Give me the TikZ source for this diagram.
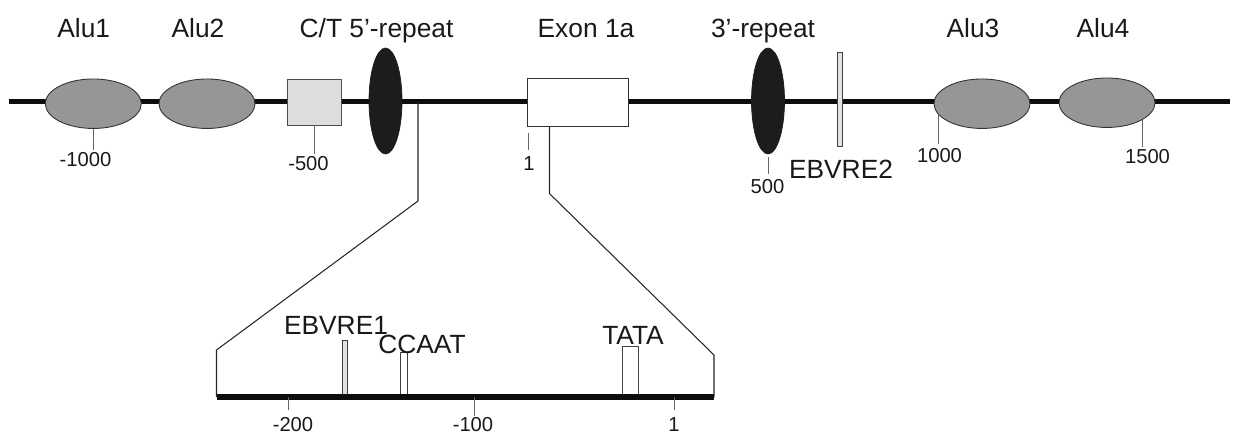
\documentclass[tikz,border=0pt]{standalone}
\usepackage{fontspec}
\setmainfont{Liberation Sans}
\usetikzlibrary{shapes.geometric}
\definecolor{alugray}{HTML}{969696}
\definecolor{boxgray}{HTML}{DDDDDD}
\definecolor{repblack}{HTML}{1E1B1B}
\definecolor{bargray}{HTML}{E2E2E2}
\begin{document}
\begin{tikzpicture}[
    x=0.02cm, y=-0.02cm,
    alu/.style={ellipse, minimum width=1.92cm, minimum height=0.99cm, inner sep=0pt, draw=black!80, line width=0.5pt, fill=alugray},
    repeat/.style={ellipse, minimum width=0.66cm, minimum height=2.12cm, inner sep=0pt, draw=repblack, fill=repblack},
    sqbox/.style={rectangle, minimum width=1.07cm, minimum height=0.92cm, inner sep=0pt, draw=black!70, line width=0.5pt, fill=boxgray},
    exonbox/.style={rectangle, minimum width=2.02cm, minimum height=0.96cm, inner sep=0pt, draw=black!80, line width=0.5pt, fill=white},
    bar/.style={rectangle, inner sep=0pt, draw=black!75, line width=0.5pt, anchor=south},
    big/.style={font=\fontsize{15}{17}\selectfont, inner sep=0pt, anchor=base, text=black!90},
    small/.style={font=\fontsize{11.5}{13}\selectfont, inner sep=0pt, anchor=base, text=black!90},
    dna/.style={line width=2.8pt, draw=black!95},
    tick/.style={line width=0.5pt, draw=black!60},
    zoomline/.style={line width=0.6pt, draw=black!85}
]
\useasboundingbox (0,0) rectangle (1234,447);

% Main strand
\coordinate (left) at (9,101.7);
\coordinate (right) at (1230,101.7);
\coordinate (zl) at (418,101.7);
\draw [dna] (left) -- (right);

% Nodes
\node (alu1) [alu] at (93.3,103.7) {};
\node (alu2) [alu] at (207,103.7) {};
\node (sq) [sqbox] at (314.3,102) {};
\node (rep5) [repeat] at (385.5,101) {};
\node (exon) [exonbox] at (577.5,102) {};
\node (rep3) [repeat] at (768,101) {};
\node (ebv2) [bar, anchor=center, minimum width=0.1cm, minimum height=1.89cm, fill=bargray] at (840.2,99.5) {};
\node (alu3) [alu] at (982,103.7) {};
\node (alu4) [alu] at (1107,102.7) {};

% Labels
\node (lalu1) [big] at (83.7,37) {Alu1};
\node (lalu2) [big] at (198,37) {Alu2};
\node (lct) [big] at (376.6,37) {C/T 5’-repeat};
\node (lexon) [big] at (586,37) {Exon 1a};
\node (lrep3) [big] at (763,37) {3’-repeat};
\node (lalu3) [big] at (973,37) {Alu3};
\node (lalu4) [big] at (1103,37) {Alu4};
\node (lebv2) [big] at (841,178) {EBVRE2};

\node (m1000n) [small] at (85.5,166.5) {-1000};
\node (m500n) [small] at (308.5,170) {-500};
\node (p1) [small] at (529,170) {1};
\node (p500) [small] at (767.5,193) {500};
\node (p1000) [small] at (939.5,162.3) {1000};
\node (p1500) [small] at (1147.5,163.3) {1500};

% Ticks
\draw [tick] (alu1.south) -- ([shift={(0,-2)}]alu1.south |- m1000n.north);
\draw [tick] (sq.south) -- ([shift={(0,-2)}]sq.south |- m500n.north);
\draw [tick] ([shift={(2,7)}]exon.south west) -- ([shift={(2,24)}]exon.south west);
\draw [tick] ([shift={(0,3)}]rep3.south) -- ([shift={(0,-5)}]rep3.south |- p500.north);
\draw [tick] (alu3.194) -- ([shift={(0,-4)}]alu3.194 |- p1000.north);
\draw [tick] (alu4.334) -- ([shift={(0,-2)}]alu4.334 |- p1500.north);

% Zoomed promoter
\coordinate (bl) at (216.5,397);
\coordinate (br) at (714,397);
\coordinate (zr) at (549.5,126.5);
\draw [zoomline] (zl) -- (418,201) -- (216.5,350) -- (bl);
\draw [zoomline] (zr) -- (549.5,193.6) -- (714,355) -- (br);

\node (ebv1) [bar, minimum width=0.108cm, minimum height=1.12cm, fill=bargray] at (344.7,397) {};
\node (ccaat) [bar, minimum width=0.14cm, minimum height=0.88cm, fill=white] at (403.5,397) {};
\node (tata) [bar, minimum width=0.32cm, minimum height=1.0cm, fill=white] at (630.5,397) {};
\draw [dna, line width=3.4pt] (bl) -- (br);

\node (lebv1) [big] at (336,334.5) {EBVRE1};
\node (lccaat) [big] at (422,353.5) {CCAAT};
\node (ltata) [big] at (633,344.5) {TATA};

\node (m200) [small] at (293,431) {-200};
\node (m100) [small] at (473,431) {-100};
\node (q1) [small] at (674,431) {1};
\draw [tick] (288.5,397) -- (288.5,410);
\draw [tick] (474.5,397) -- (474.5,416);
\draw [tick] (674.5,397) -- (674.5,410);

\end{tikzpicture}
\end{document}
